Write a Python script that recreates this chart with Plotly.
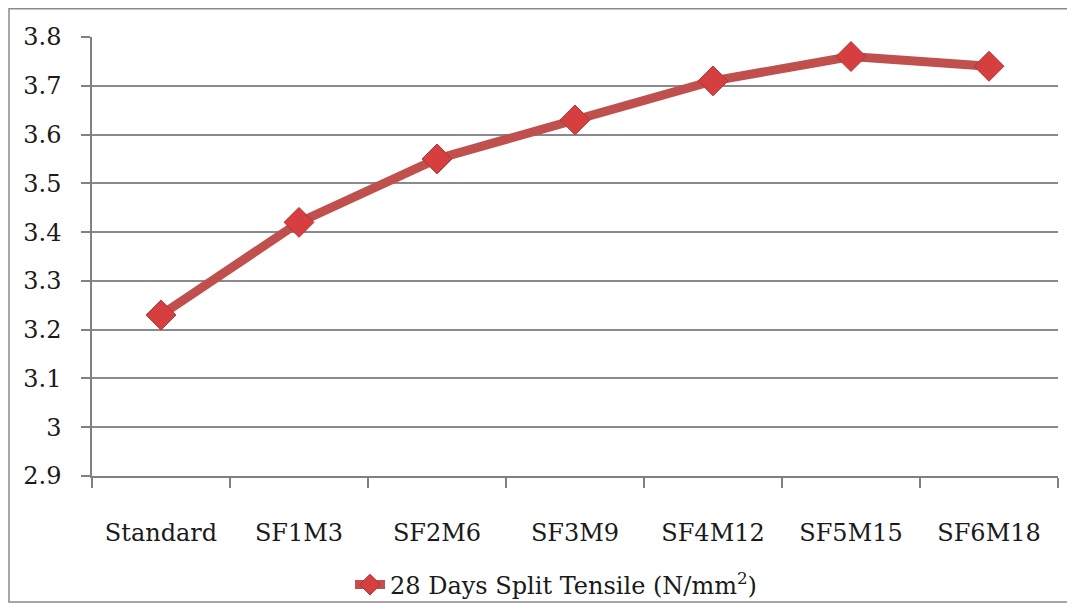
import plotly.graph_objects as go

categories = ["Standard", "SF1M3", "SF2M6", "SF3M9", "SF4M12", "SF5M15", "SF6M18"]
split_tensile = [3.23, 3.42, 3.55, 3.63, 3.71, 3.76, 3.74]
series_name = "28 Days Split Tensile (N/mm<sup>2</sup>)"
y_ticks = [2.9, 3.0, 3.1, 3.2, 3.3, 3.4, 3.5, 3.6, 3.7, 3.8]
y_tick_text = ["2.9", "3", "3.1", "3.2", "3.3", "3.4", "3.5", "3.6", "3.7", "3.8"]

FONT = "DejaVu Serif"
FS = 24
# page body has an 8px margin: figure coordinates = screen - 8
W, H = 1067, 595
L, R, T, B = 84, 17, 29, 127

fig = go.Figure()
fig.add_trace(go.Scatter(
    x=categories, y=split_tensile, name=series_name,
    mode="lines+markers",
    line=dict(color="#C0504D", width=9),
    marker=dict(symbol="diamond", size=23, color="#D63F3F",
                line=dict(color="#B03535", width=1)),
))

plot_w = W - L - R
plot_h = H - T - B
fig.update_layout(
    width=W, height=H,
    margin=dict(l=L, r=R, t=T, b=B, autoexpand=False),
    paper_bgcolor="white", plot_bgcolor="white",
    font=dict(family=FONT, size=FS, color="#1a1a1a"),
    showlegend=True,
    legend=dict(orientation="h", x=(342 - L) / plot_w, xanchor="left",
                y=(T + plot_h - 577) / plot_h, yanchor="middle",
                font=dict(family=FONT, size=FS, color="#1a1a1a"),
                bgcolor="rgba(0,0,0,0)"),
    xaxis=dict(
        type="category", range=[-0.5, 6.5], tickangle=0,
        tickson="boundaries", ticks="outside", ticklen=10, tickwidth=1.5, tickcolor="#808080",
        showline=True, linecolor="#808080", linewidth=1.5,
        showgrid=False, ticklabelstandoff=34,
        tickfont=dict(family=FONT, size=FS, color="#1a1a1a"),
    ),
    yaxis=dict(
        range=[2.9, 3.8], tickvals=y_ticks, ticktext=y_tick_text,
        ticks="outside", ticklen=9, tickwidth=1.5, tickcolor="#808080",
        showline=True, linecolor="#808080", linewidth=1.5,
        showgrid=True, gridcolor="#8a8a8a", gridwidth=1.5,
        zeroline=False, ticklabelstandoff=15,
        tickfont=dict(family=FONT, size=FS, color="#1a1a1a"),
    ),
)

# outer chart border
fig.add_shape(type="rect", xref="paper", yref="paper",
              x0=(1 - L) / plot_w, x1=(1080 - L) / plot_w,
              y0=(T + plot_h - 594) / plot_h, y1=(T + plot_h - 0.75) / plot_h,
              line=dict(color="#8a8a8a", width=1.5), fillcolor="rgba(0,0,0,0)", layer="below")

fig.write_html("out.html")
